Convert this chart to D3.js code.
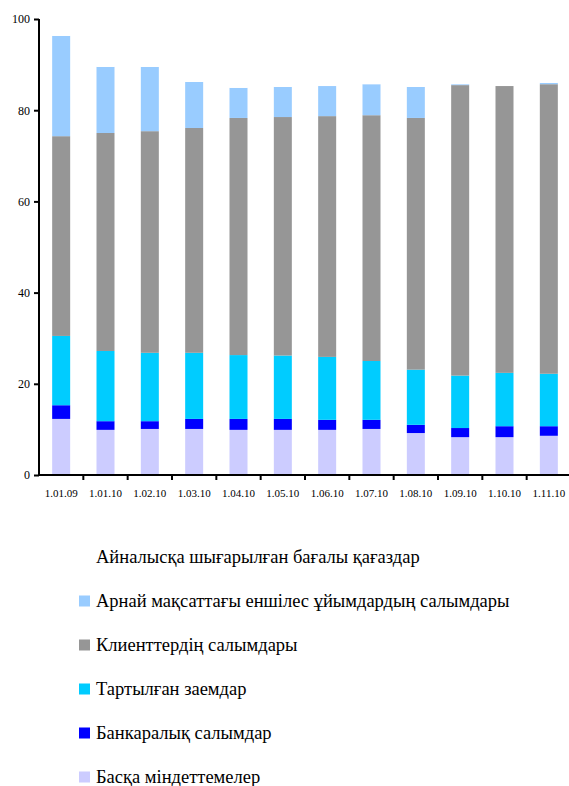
<!DOCTYPE html>
<html>
<head>
<meta charset="utf-8">
<script src="https://cdn.jsdelivr.net/npm/d3@7"></script>
<style>
  body { margin: 0; background: #fff; }
  svg text { font-family: "Times New Roman", "Liberation Serif", Times, "DejaVu Serif", serif !important; fill: #000; }
</style>
</head>
<body>
<div id="chart"></div>
<script>
const dates = ["1.01.09", "1.01.10", "1.02.10", "1.03.10", "1.04.10", "1.05.10",
  "1.06.10", "1.07.10", "1.08.10", "1.09.10", "1.10.10", "1.11.10"];

// stacked bottom to top
const other      = [12.3, 9.9, 10.1, 10.1, 9.9, 9.9, 9.9, 10.1, 9.2, 8.3, 8.3, 8.6];
const interbank  = [3.0, 1.9, 1.7, 2.2, 2.4, 2.4, 2.2, 2.0, 1.8, 2.0, 2.4, 2.1];
const loans      = [15.2, 15.4, 15.0, 14.5, 14.0, 13.9, 13.8, 12.9, 12.1, 11.5, 11.7, 11.5];
const clients    = [43.8, 47.8, 48.6, 49.3, 52.0, 52.3, 52.8, 53.9, 55.2, 63.7, 62.9, 63.5];
const spv        = [22.0, 14.5, 14.1, 10.1, 6.6, 6.6, 6.6, 6.8, 6.8, 0.2, 0.0, 0.3];
const securities = [3.7, 10.5, 10.5, 13.8, 15.1, 14.9, 14.7, 14.3, 14.9, 14.3, 14.7, 14.0];

const yTicks = [0, 20, 40, 60, 80, 100];

const series = [
  { key: "other", name: "Басқа міндеттемелер", values: other, color: "#CCCCFF" },
  { key: "interbank", name: "Банкаралық салымдар", values: interbank, color: "#0000FF" },
  { key: "loans", name: "Тартылған заемдар", values: loans, color: "#00CCFF" },
  { key: "clients", name: "Клиенттердің салымдары", values: clients, color: "#969696" },
  { key: "spv", name: "Арнай мақсаттағы еншілес ұйымдардың салымдары", values: spv, color: "#99CCFF" },
  { key: "securities", name: "Айналысқа шығарылған бағалы қағаздар", values: securities, color: "#FFFFFF" }
];

const W = 569, H = 786;
const margin = { top: 19, left: 39, plotW: 532, plotH: 456 };

const svg = d3.select("#chart").append("svg")
  .attr("width", W).attr("height", H);

const rows = dates.map((d, i) => {
  const r = { date: d };
  series.forEach(s => r[s.key] = s.values[i]);
  return r;
});
const stack = d3.stack().keys(series.map(s => s.key))(rows);

const x = d3.scaleBand().domain(dates)
  .range([margin.left, margin.left + margin.plotW]);
const y = d3.scaleLinear().domain([0, 100])
  .range([margin.top + margin.plotH, margin.top]);
const barW = 18;

// ---- Bars ----
const g = svg.append("g");
stack.forEach((layer, li) => {
  g.append("g").attr("fill", series[li].color)
    .selectAll("rect")
    .data(layer)
    .join("rect")
    .attr("x", d => x(d.data.date) + x.bandwidth() / 2 - barW / 2)
    .attr("y", d => y(d[1]))
    .attr("width", barW)
    .attr("height", d => Math.max(0, y(d[0]) - y(d[1])));
});

// ---- Y axis ----
const yAxis = svg.append("g")
  .attr("transform", `translate(${margin.left},0)`)
  .call(d3.axisLeft(y).tickValues(yTicks).tickSize(5).tickPadding(4).tickFormat(d3.format("d")));
yAxis.attr("font-family", null);
yAxis.select(".domain").attr("stroke-width", 2).attr("d", `M0,${y(0)}V${y(100)}`);
yAxis.selectAll(".tick line").attr("stroke-width", 2);
yAxis.selectAll("text").attr("font-size", 12);

// ---- X axis ----
const xAxis = svg.append("g")
  .attr("transform", `translate(0,${y(0)})`)
  .call(d3.axisBottom(x).tickSize(0).tickPadding(14));
xAxis.attr("font-family", null);
xAxis.select(".domain").attr("stroke-width", 2).attr("d", `M${margin.left},0H${W}`);
xAxis.selectAll("text").attr("font-size", 11);
// band boundary ticks
xAxis.append("g").selectAll("line")
  .data(dates.slice(1))
  .join("line")
  .attr("x1", d => x(d)).attr("x2", d => x(d))
  .attr("y1", 0).attr("y2", 5)
  .attr("stroke", "#000").attr("stroke-width", 2);

// ---- Legend ----
const legendOrder = series.slice().reverse();
const lg = svg.append("g").attr("transform", "translate(79,557)");
legendOrder.forEach((s, i) => {
  const row = lg.append("g").attr("transform", `translate(0,${i * 44})`);
  if (s.key !== "securities") {
    row.append("rect").attr("x", 0).attr("y", -5.5).attr("width", 11).attr("height", 11)
      .attr("fill", s.color);
  }
  row.append("text").attr("x", 17).attr("y", 0)
    .attr("dominant-baseline", "central")
    .attr("font-size", 18.5)
    .text(s.name);
});
</script>
</body>
</html>
